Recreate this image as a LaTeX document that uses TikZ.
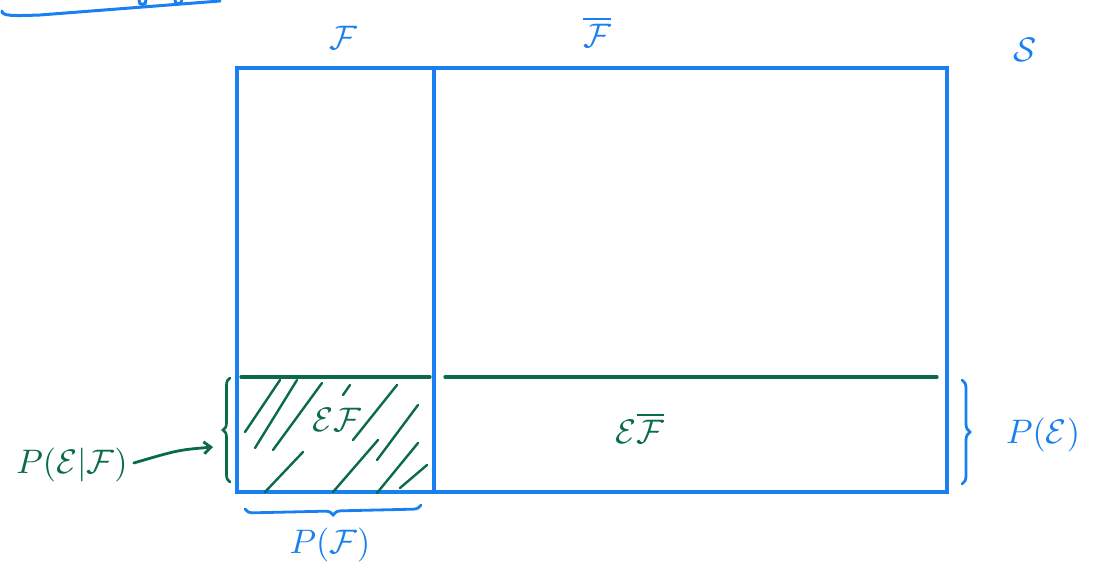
\documentclass[tikz,border=0pt]{standalone}
\usepackage{amsmath}
\usetikzlibrary{decorations.pathreplacing,arrows.meta}
\definecolor{pen}{HTML}{1A7FF0}
\definecolor{ink}{HTML}{0A6B48}
\newcommand\hugelab[1]{\scalebox{3.4}{#1}}
\tikzset{
  box/.style={draw=pen,line width=3.2pt},
  gline/.style={draw=ink,line width=3.2pt,line cap=round},
  hatch/.style={draw=ink,line width=2.4pt,line cap=round},
  blab/.style={text=pen,inner sep=0pt},
  glab/.style={text=ink,inner sep=0pt},
  bbrace/.style={draw=pen,line width=2.8pt,line cap=round,decorate,decoration={brace,amplitude=8pt}},
  gbrace/.style={draw=ink,line width=2.6pt,line cap=round,decorate,decoration={brace,amplitude=7pt}},
}
\begin{document}
\begin{tikzpicture}[x=1pt,y=-1pt]
\useasboundingbox (0,0) rectangle (1097,567);
% partial stroke at top left
\draw[pen,line width=3pt,line cap=round] (2,11) .. controls (2,16) and (12,16) .. (40,15) -- (220,1);
\draw[pen,line width=3pt] (139,0) .. controls (138,6) and (147,6) .. (146,0);
\draw[pen,line width=3pt] (175,0) .. controls (174,5) and (182,5) .. (182,0);
% main rectangle
\coordinate (tl) at (237,68);
\coordinate (br) at (947,492);
\draw[box] (tl) rectangle (br);
\coordinate (dt) at (434,68);
\coordinate (db) at (434,492);
\draw[box] (dt) -- (db);
% green lines
\coordinate (g1a) at (241,377);
\coordinate (g1b) at (430,377);
\coordinate (g2a) at (445,377);
\coordinate (g2b) at (937,377);
\draw[gline] (g1a) -- (g1b);
\draw[gline] (g2a) -- (g2b);
% hatch
\draw[hatch] (245,432) -- (280,380);
\draw[hatch] (255,448) -- (297,380);
\draw[hatch] (273,450) -- (322,383);
\draw[hatch] (343,395) -- (350,385);
\draw[hatch] (353,440) -- (397,385);
\draw[hatch] (377,460) -- (418,405);
\draw[hatch] (265,492) -- (303,452);
\draw[hatch] (333,492) -- (378,440);
\draw[hatch] (377,493) -- (418,443);
\draw[hatch] (400,488) -- (427,465);
% labels
\node[blab] (F) at (343,38) {\hugelab{$\mathcal{F}$}};
\node[blab] (Fb) at (597,32) {\hugelab{$\overline{\mathcal{F}}$}};
\node[blab] (S) at (1025,50) {\hugelab{$\mathcal{S}$}};
\node[glab] (EF) at (337,420) {\hugelab{$\mathcal{E}\mathcal{F}$}};
\node[glab] (EFb) at (640,428) {\hugelab{$\mathcal{E}\overline{\mathcal{F}}$}};
% left brace and label
\coordinate (lb1) at (230,482);
\coordinate (lb2) at (230,378);
\draw[gbrace] (lb1) -- (lb2);
\node[glab] (PEF) at (72,465) {\hugelab{$P(\mathcal{E}|\mathcal{F})$}};
\coordinate (arr) at (213,447);
\draw[ink,line width=2.8pt,line cap=round,-{Straight Barb[length=7pt,width=12pt]}] (PEF.east) ++(6,-2) .. controls (178,450) .. (arr);
% bottom brace
\coordinate (bb1) at (421,505);
\coordinate (bb2) at (245,509);
\draw[bbrace] (bb1) -- (bb2);
\node[blab] (PF) at (330,545) {\hugelab{$P(\mathcal{F})$}};
% right brace
\coordinate (rb1) at (962,380);
\coordinate (rb2) at (962,484);
\draw[bbrace] (rb1) -- (rb2);
\node[blab] (PE) at (1043,435) {\hugelab{$P(\mathcal{E})$}};
\end{tikzpicture}
\end{document}
